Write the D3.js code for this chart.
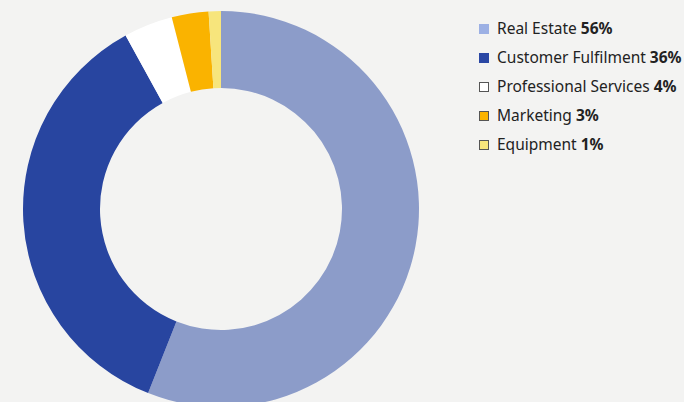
<!DOCTYPE html>
<html>
<head>
<meta charset="utf-8">
<script src="https://cdn.jsdelivr.net/npm/d3@7"></script>
<style>
  html, body { margin: 0; padding: 0; background: #f3f3f2; }
  svg { display: block; }
</style>
</head>
<body>
<svg id="chart" width="684" height="402"></svg>
<script>
// Spending breakdown, percent of total
const categories = ["Real Estate", "Customer Fulfilment", "Professional Services", "Marketing", "Equipment"];
const shares = [56, 36, 4, 3, 1];
const sliceColors = ["#8c9cc9", "#2845a0", "#ffffff", "#fab300", "#f7e57c"];
const swatchColors = ["#9cb0e4", "#2a47a4", "#ffffff", "#fab300", "#f7e57c"];
const swatchStroke = [null, null, "#555555", "#555555", "#555555"];

const svg = d3.select("#chart");
const cx = 221, cy = 209, outerR = 198, innerR = 121;

const data = categories.map((c, i) => ({ name: c, value: shares[i], i }));

const pie = d3.pie().value(d => d.value).sort(null);
const arc = d3.arc().innerRadius(innerR).outerRadius(outerR);

const ring = svg.append("g").attr("transform", `translate(${cx},${cy})`);
ring.selectAll("path")
  .data(pie(data))
  .join("path")
  .attr("d", arc)
  .attr("fill", d => sliceColors[d.data.i]);

// Legend
const legendY = d3.scalePoint().domain(categories).range([29, 145]);
const legend = svg.append("g");
const rows = legend.selectAll("g")
  .data(data)
  .join("g")
  .attr("transform", d => `translate(479,${legendY(d.name)})`);

rows.append("rect")
  .attr("x", d => swatchStroke[d.i] ? 0.5 : 0)
  .attr("y", d => swatchStroke[d.i] ? -4.5 : -5)
  .attr("width", d => swatchStroke[d.i] ? 9 : 10)
  .attr("height", d => swatchStroke[d.i] ? 9 : 10)
  .attr("fill", d => swatchColors[d.i])
  .attr("stroke", d => swatchStroke[d.i] || "none")
  .attr("stroke-width", 1);

const label = rows.append("text")
  .attr("x", 18)
  .attr("y", 0)
  .attr("dy", "0.35em")
  .style("font-family", "'Noto Sans', 'Open Sans', sans-serif")
  .style("font-size", "15.5px")
  .attr("fill", "#222222");
label.append("tspan").text(d => d.name + " ");
label.append("tspan").attr("font-weight", "bold").text(d => d.value + "%");
</script>
</body>
</html>
